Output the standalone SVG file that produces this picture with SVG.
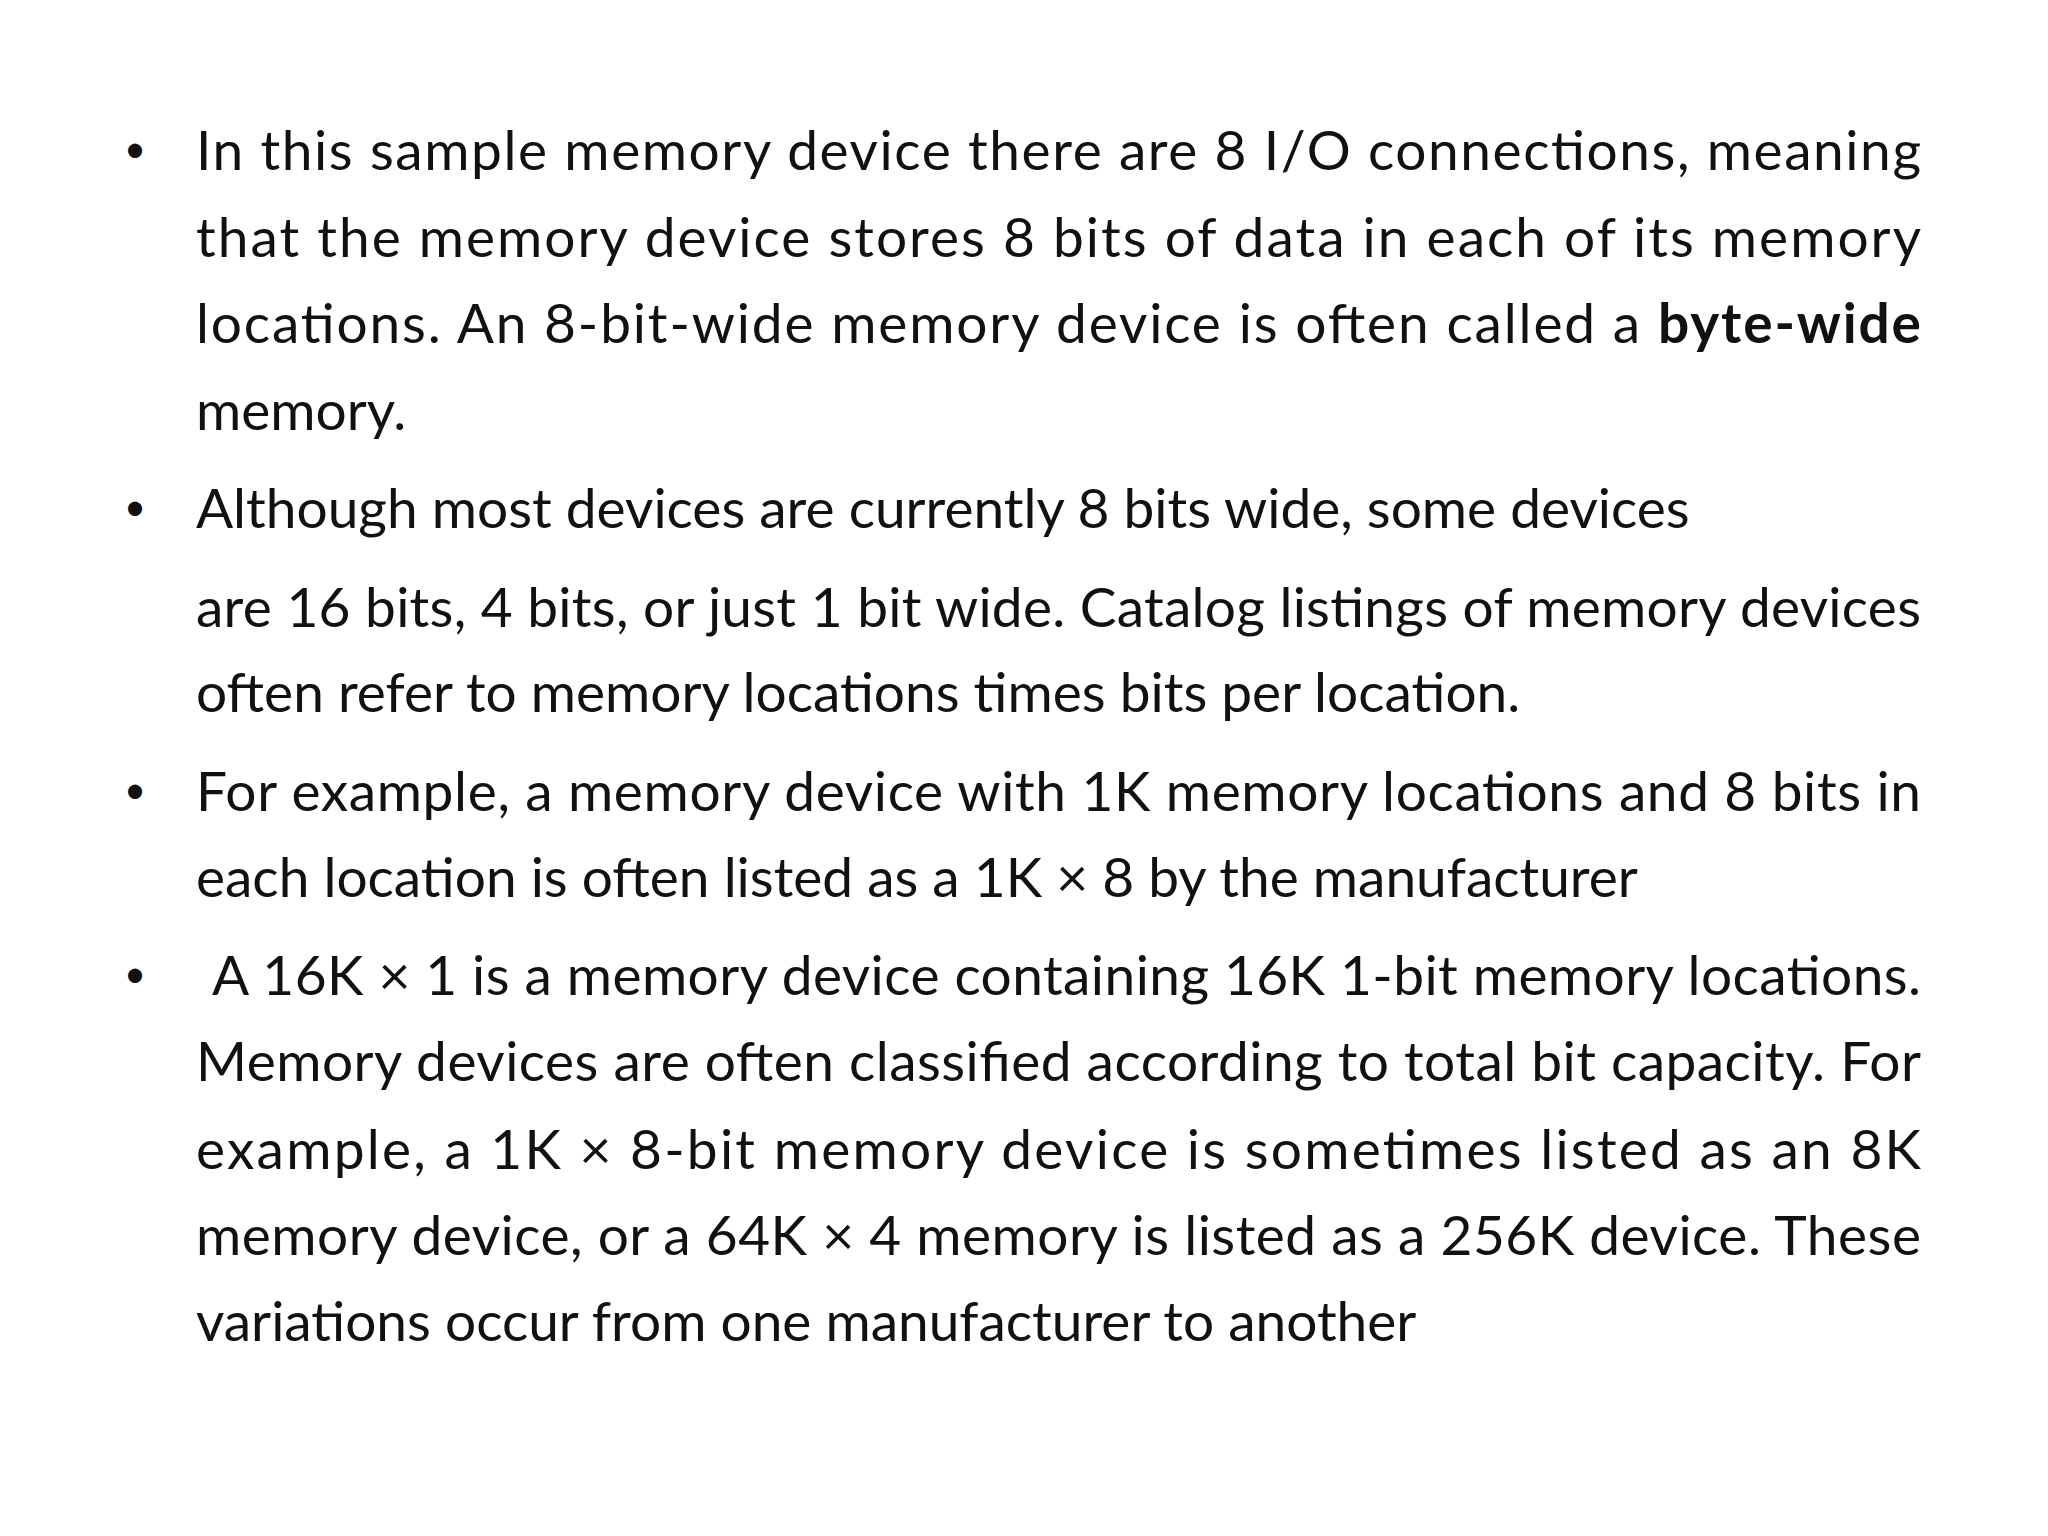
<svg xmlns="http://www.w3.org/2000/svg" width="2048" height="1536" viewBox="0 0 2048 1536">
<style>
text{font-family:Lato,"Liberation Sans",sans-serif;font-size:55px;fill:#111}
.b{font-weight:bold}
.bl{font-size:38px}
</style>
<rect width="2048" height="1536" fill="#fff"/>
<g id="bullets">
<text class="bl" x="124" y="162">•</text>
<text class="bl" x="124" y="520">•</text>
<text class="bl" x="124" y="803">•</text>
<text class="bl" x="124" y="987">•</text>
</g>
<g id="para1">
<text x="196" y="170" textLength="1725" lengthAdjust="spacing">In this sample memory device there are 8 I/O connections, meaning</text>
<text x="196" y="257" textLength="1725" lengthAdjust="spacing">that the memory device stores 8 bits of data in each of its memory</text>
<text x="196" y="343" textLength="1725" lengthAdjust="spacing">locations. An 8-bit-wide memory device is often called a <tspan class="b">byte-wide</tspan></text>
<text x="196" y="430">memory.</text>
</g>
<g id="para2">
<text x="196" y="528">Although most devices are currently 8 bits wide, some devices</text>
<text x="196" y="627" textLength="1725" lengthAdjust="spacing">are 16 bits, 4 bits, or just 1 bit wide. Catalog listings of memory devices</text>
<text x="196" y="712">often refer to memory locations times bits per location.</text>
</g>
<g id="para3">
<text x="196" y="811" textLength="1725" lengthAdjust="spacing">For example, a memory device with 1K memory locations and 8 bits in</text>
<text x="196" y="897">each location is often listed as a 1K × 8 by the manufacturer</text>
</g>
<g id="para4">
<text x="212" y="995" textLength="1709" lengthAdjust="spacing">A 16K × 1 is a memory device containing 16K 1-bit memory locations.</text>
<text x="196" y="1081" textLength="1725" lengthAdjust="spacing">Memory devices are often classified according to total bit capacity. For</text>
<text x="196" y="1169" textLength="1725" lengthAdjust="spacing">example, a 1K × 8-bit memory device is sometimes listed as an 8K</text>
<text x="196" y="1255" textLength="1725" lengthAdjust="spacing">memory device, or a 64K × 4 memory is listed as a 256K device. These</text>
<text x="196" y="1341">variations occur from one manufacturer to another</text>
</g>
</svg>
